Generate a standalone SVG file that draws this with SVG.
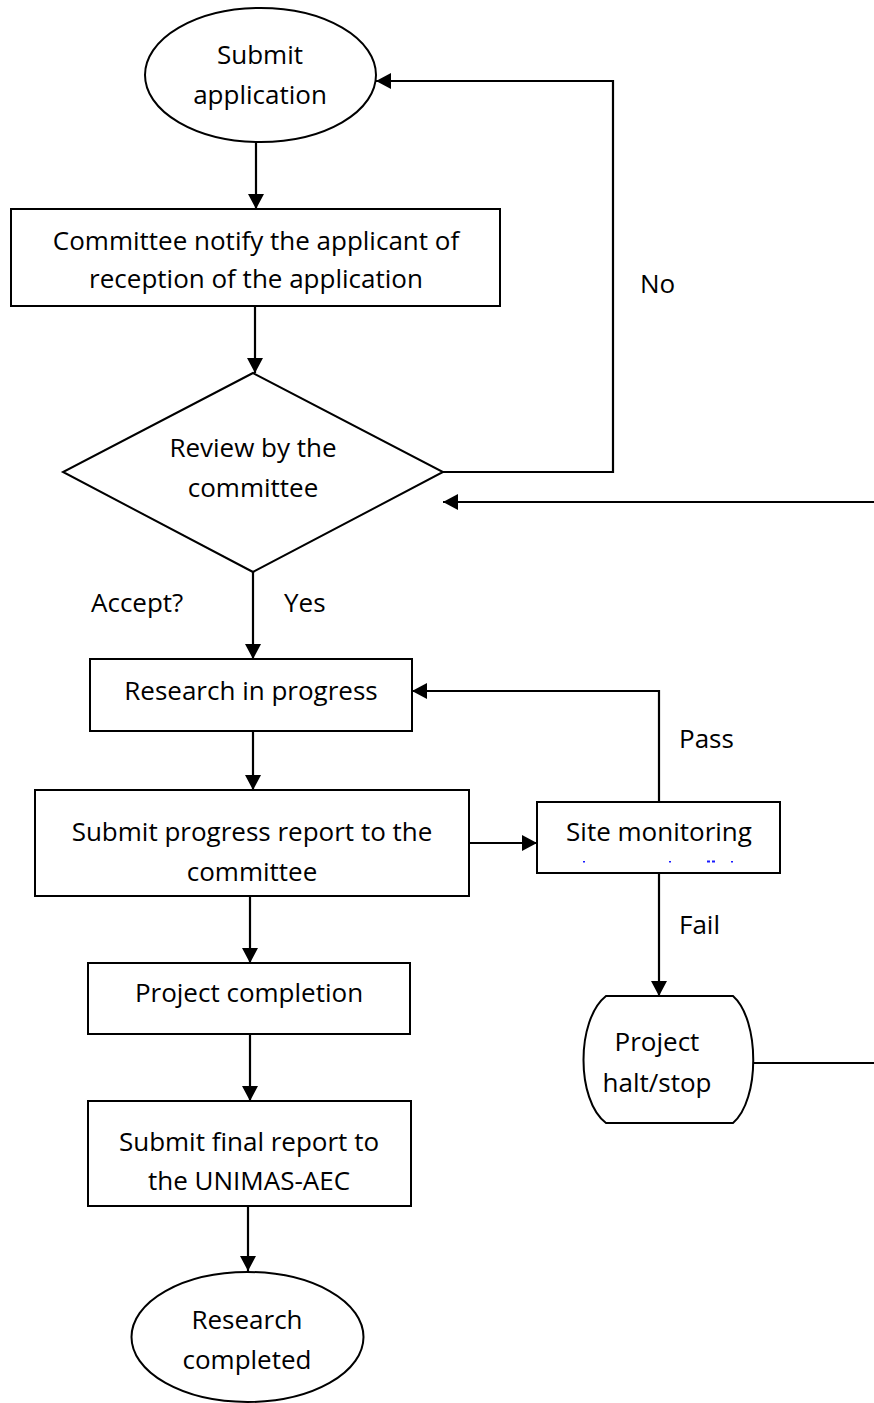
<svg xmlns="http://www.w3.org/2000/svg" width="874" height="1403" viewBox="0 0 874 1403">
<style>
.s{fill:#fff;stroke:#000;stroke-width:2}
.t{font-family:"Open Sans","Liberation Sans",sans-serif;font-size:26px;fill:#000;text-anchor:middle}
.l{font-family:"Open Sans","Liberation Sans",sans-serif;font-size:26px;fill:#000}
.c{fill:none;stroke:#000;stroke-width:2.2}
.a{fill:none;stroke:#000;stroke-width:2.2;marker-end:url(#ah)}
</style>
<defs>
<marker id="ah" markerUnits="userSpaceOnUse" markerWidth="15" markerHeight="16" refX="15" refY="8" orient="auto">
<path d="M0,0 L15,8 L0,16 z" fill="#000"/>
</marker>
</defs>
<rect width="874" height="1403" fill="#fff"/>
<g id="connectors">
<path class="a" d="M256,142 V209"/>
<path class="a" d="M255,306 V373"/>
<path class="a" d="M443,472 H613 V81 H376"/>
<path class="a" d="M874,502 H443"/>
<path class="a" d="M253,572 V659"/>
<path class="a" d="M253,731 V790"/>
<path class="a" d="M469,843 H537"/>
<path class="a" d="M659,802 V691 H412"/>
<path class="a" d="M659,873 V996"/>
<path class="c" d="M753,1063 H874"/>
<path class="a" d="M250,896 V963"/>
<path class="a" d="M250,1034 V1101"/>
<path class="a" d="M248,1206 V1271"/>
</g>
<g id="n-submit">
<ellipse class="s" cx="260.5" cy="75" rx="115.5" ry="67"/>
<text class="t" x="260" y="64">Submit</text>
<text class="t" x="260" y="104">application</text>
</g>
<g id="n-notify">
<rect class="s" x="11" y="209" width="489" height="97"/>
<text class="t" x="256" y="250">Committee notify the applicant of</text>
<text class="t" x="256" y="288">reception of the application</text>
</g>
<g id="n-review">
<polygon class="s" points="253,373 443,472 253,572 63,472"/>
<text class="t" x="253" y="457">Review by the</text>
<text class="t" x="253" y="497">committee</text>
</g>
<g id="labels">
<text class="l" x="640" y="293">No</text>
<text class="l" x="91" y="612">Accept?</text>
<text class="l" x="284" y="612">Yes</text>
<text class="l" x="679" y="748">Pass</text>
<text class="l" x="679" y="934">Fail</text>
</g>
<g id="n-research">
<rect class="s" x="90" y="659" width="322" height="72"/>
<text class="t" x="251" y="700">Research in progress</text>
</g>
<g id="n-progress">
<rect class="s" x="35" y="790" width="434" height="106"/>
<text class="t" x="252" y="841">Submit progress report to the</text>
<text class="t" x="252" y="881">committee</text>
</g>
<g id="n-site">
<rect class="s" x="537" y="802" width="243" height="71"/>
<text class="t" x="659" y="841">Site monitoring</text>
<g fill="#1a1aff">
<rect x="583" y="861" width="2" height="1.5"/>
<rect x="669" y="861" width="2" height="1.5"/>
<rect x="707" y="860.5" width="3" height="2"/>
<rect x="712" y="860.5" width="3" height="2"/>
<rect x="731" y="861" width="2" height="1.5"/>
</g>
</g>
<g id="n-halt">
<path class="s" d="M606,996 H733 C760,1020 760,1100 733,1123 H606 C576,1100 576,1020 606,996 Z"/>
<text class="t" x="657" y="1051">Project</text>
<text class="t" x="657" y="1092">halt/stop</text>
</g>
<g id="n-completion">
<rect class="s" x="88" y="963" width="322" height="71"/>
<text class="t" x="249" y="1002">Project completion</text>
</g>
<g id="n-final">
<rect class="s" x="88" y="1101" width="323" height="105"/>
<text class="t" x="249" y="1151">Submit final report to</text>
<text class="t" x="249" y="1190">the UNIMAS-AEC</text>
</g>
<g id="n-done">
<ellipse class="s" cx="247.5" cy="1337" rx="116" ry="65"/>
<text class="t" x="247" y="1329">Research</text>
<text class="t" x="247" y="1369">completed</text>
</g>
</svg>
